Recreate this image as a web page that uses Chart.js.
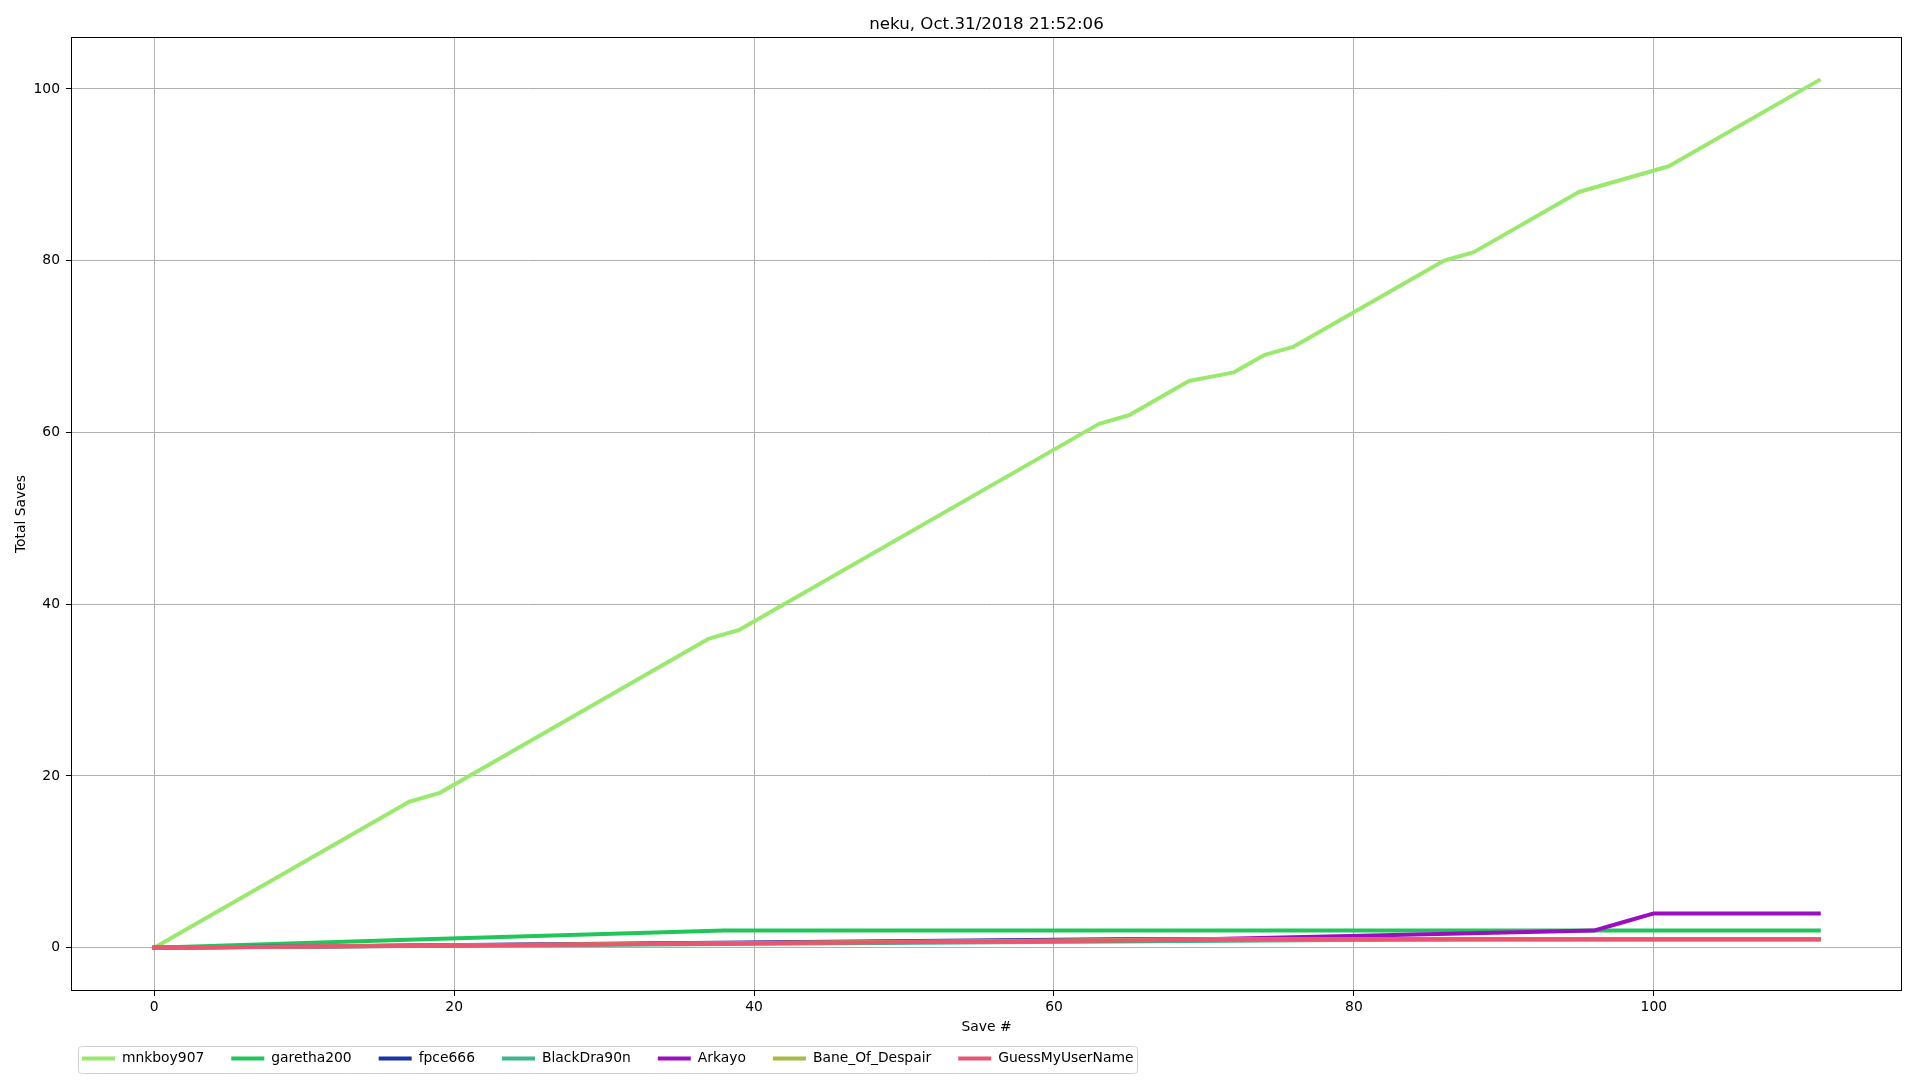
<!DOCTYPE html>
<html>
<head>
<meta charset="utf-8">
<script src="https://cdn.jsdelivr.net/npm/chart.js@4/dist/chart.umd.min.js"></script>
<style>
  html, body { margin: 0; padding: 0; background: #ffffff; }
  #wrap { width: 1920px; height: 1080px; }
</style>
</head>
<body>
<div id="wrap"><canvas id="c" width="1920" height="1080"></canvas></div>
<script>
// ---- Data ----
const chartTitle = 'neku, Oct.31/2018 21:52:06';
const xAxisLabel = 'Save #';
const yAxisLabel = 'Total Saves';
const xTickValues = [0, 20, 40, 60, 80, 100];
const yTickValues = [0, 20, 40, 60, 80, 100];

const seriesNames = ['mnkboy907', 'garetha200', 'fpce666', 'BlackDra90n', 'Arkayo', 'Bane_Of_Despair', 'GuessMyUserName'];
const seriesColors = ['#9ae96e', '#22c55a', '#1a33a8', '#3cb68a', '#9b0dbf', '#a9ba48', '#e9566f'];

const mnkboy907X = [0, 17, 19, 37, 39, 63, 65, 69, 72, 74, 76, 86, 88, 95, 101, 111];
const mnkboy907Y = [0, 17, 18, 36, 37, 61, 62, 66, 67, 69, 70, 80, 81, 88, 91, 101];
const garetha200X = [0, 18, 38, 111];
const garetha200Y = [0, 1, 2, 2];
const fpce666X = [0, 64, 111];
const fpce666Y = [0, 1, 1];
const blackDra90nX = [0, 87, 111];
const blackDra90nY = [0, 1, 1];
const arkayoX = [0, 70, 96, 98, 100, 111];
const arkayoY = [0, 1, 2, 3, 4, 4];
const baneX = [0, 71, 111];
const baneY = [0, 1, 1];
const guessX = [0, 75, 111];
const guessY = [0, 1, 1];

const seriesX = [mnkboy907X, garetha200X, fpce666X, blackDra90nX, arkayoX, baneX, guessX];
const seriesY = [mnkboy907Y, garetha200Y, fpce666Y, blackDra90nY, arkayoY, baneY, guessY];

const xMin = -5.55, xMax = 116.55;
const yMin = -5.05, yMax = 106.05;

// ---- Chart ----
const FONT = 'DejaVu Sans';
const n = seriesNames.length;
const datasets = seriesNames.map((name, i) => ({
  label: name,
  data: seriesX[i].map((x, k) => ({ x: x, y: seriesY[i][k] })),
  borderColor: seriesColors[i],
  backgroundColor: seriesColors[i],
  borderWidth: 4,
  borderCapStyle: 'square',
  borderJoinStyle: 'round',
  pointRadius: 0,
  pointHoverRadius: 0,
  tension: 0,
  fill: false,
  order: n - i
}));

const LEGEND_SHIFT = 55;

const framePlugin = {
  id: 'frame',
  afterLayout(chart) {
    const lg = chart.legend;
    if (lg) { lg.left += LEGEND_SHIFT; lg.right += LEGEND_SHIFT; }
  },
  beforeDraw(chart) {
    const ctx = chart.ctx;
    ctx.save();
    ctx.fillStyle = '#ffffff';
    ctx.fillRect(0, 0, chart.width, chart.height);
    const hb = chart.legend && chart.legend.legendHitBoxes;
    if (hb && hb.length) {
      const first = hb[0], last = hb[hb.length - 1];
      const l = first.left - 4, r = last.left + last.width + 4;
      const t = first.top - 6, b = first.top + first.height + 7;
      ctx.strokeStyle = '#d0d0d0';
      ctx.lineWidth = 1;
      ctx.beginPath();
      if (ctx.roundRect) ctx.roundRect(Math.round(l) + 0.5, Math.round(t) + 0.5, Math.round(r - l), Math.round(b - t), 3);
      else ctx.rect(Math.round(l) + 0.5, Math.round(t) + 0.5, Math.round(r - l), Math.round(b - t));
      ctx.stroke();
    }
    ctx.restore();
  },
  afterDatasetsDraw(chart) {
    const a = chart.chartArea, ctx = chart.ctx;
    ctx.save();
    ctx.strokeStyle = '#000000';
    ctx.lineWidth = 1;
    ctx.strokeRect(Math.round(a.left) + 0.5, Math.round(a.top) + 0.5, Math.round(a.right - a.left) - 1, Math.round(a.bottom - a.top) - 1);
    ctx.restore();
  }
};

new Chart(document.getElementById('c'), {
  type: 'line',
  data: { datasets: datasets },
  plugins: [framePlugin],
  options: {
    responsive: false,
    maintainAspectRatio: false,
    devicePixelRatio: 1,
    animation: false,
    events: [],
    layout: { padding: { left: 0, right: 18, top: 0, bottom: 4.5 } },
    plugins: {
      title: {
        display: true,
        text: chartTitle,
        fullSize: false,
        color: '#000000',
        font: { family: FONT, size: 16.67, weight: 'normal', lineHeight: 1.2 },
        padding: { top: 15, bottom: 2 }
      },
      legend: {
        display: true,
        position: 'bottom',
        align: 'start',
        labels: {
          usePointStyle: true,
          pointStyle: 'line',
          pointStyleWidth: 33,
          boxHeight: 13.89,
          padding: 27,
          color: '#000000',
          font: { family: FONT, size: 13.89 },
          sort: (a, b) => a.datasetIndex - b.datasetIndex
        }
      },
      tooltip: { enabled: false }
    },
    scales: {
      x: {
        type: 'linear',
        min: xMin,
        max: xMax,
        afterBuildTicks: (s) => { s.ticks = xTickValues.map(v => ({ value: v })); },
        afterFit: (s) => { s.height = 33.5; },
        grid: { color: '#b0b0b0', lineWidth: 1, drawTicks: true, tickLength: 5, tickColor: '#000000', tickWidth: 1 },
        border: { display: false },
        ticks: { color: '#000000', padding: 3, maxRotation: 0, font: { family: FONT, size: 13.89 } },
        title: { display: true, text: xAxisLabel, color: '#000000', font: { family: FONT, size: 13.89 }, padding: { top: 0, bottom: -11.3 } }
      },
      y: {
        type: 'linear',
        min: yMin,
        max: yMax,
        afterBuildTicks: (s) => { s.ticks = yTickValues.map(v => ({ value: v })); },
        afterFit: (s) => { s.width = 71; },
        grid: { color: '#b0b0b0', lineWidth: 1, drawTicks: true, tickLength: 5, tickColor: '#000000', tickWidth: 1 },
        border: { display: false },
        ticks: { color: '#000000', padding: 6, font: { family: FONT, size: 13.89 } },
        title: { display: true, text: yAxisLabel, color: '#000000', font: { family: FONT, size: 13.89 }, padding: { top: 12.7, bottom: 0 } }
      }
    }
  }
});
</script>
</body>
</html>
